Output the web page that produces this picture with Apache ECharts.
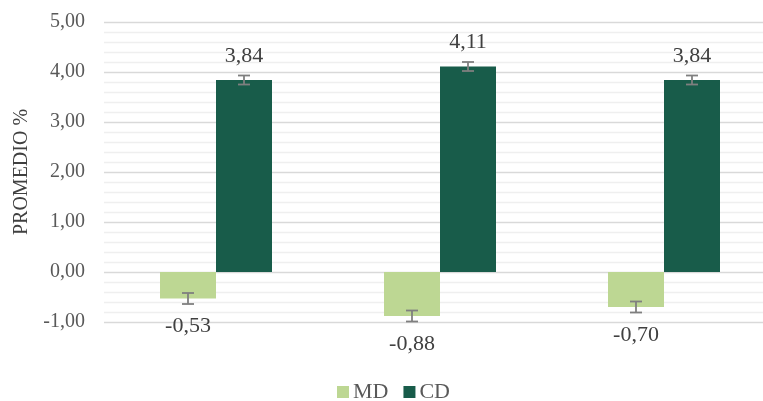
<!DOCTYPE html>
<html>
<head>
<meta charset="utf-8">
<script src="https://cdn.jsdelivr.net/npm/echarts@6/dist/echarts.min.js"></script>
<style>html,body{margin:0;padding:0;background:#fff}#c{width:763px;height:401px}</style>
</head>
<body>
<div id="c"></div>
<script>
const categories = ['G1', 'G2', 'G3'];
const mdValues = [-0.53, -0.88, -0.70];
const cdValues = [3.84, 4.11, 3.84];
const mdErrors = [0.11, 0.11, 0.11];
const cdErrors = [0.09, 0.09, 0.09];
const seriesNames = ['MD', 'CD'];

const fmt = v => v.toFixed(2).replace('.', ',');
const FONT = '"Liberation Serif", "Times New Roman", serif';

function errSeries(values, errors, side) {
  return {
    type: 'custom',
    z: 10,
    silent: true,
    data: values.map((v, i) => [i, v, errors[i]]),
    renderItem: function (params, api) {
      const i = api.value(0), v = api.value(1), e = api.value(2);
      const bw = api.size([1, 0])[0];
      const c = api.coord([i, v]);
      const x = c[0] + side * bw * 0.125;
      const yT = api.coord([i, v + e])[1];
      const yB = api.coord([i, v - e])[1];
      const hw = 6;
      const style = { stroke: '#7f7f7f', lineWidth: 1.8, fill: null };
      return {
        type: 'group',
        children: [
          { type: 'line', shape: { x1: x, y1: yT, x2: x, y2: yB }, style },
          { type: 'line', shape: { x1: x - hw, y1: yT, x2: x + hw, y2: yT }, style },
          { type: 'line', shape: { x1: x - hw, y1: yB, x2: x + hw, y2: yB }, style }
        ]
      };
    },
    encode: { x: 0, y: 1 }
  };
}

const labelCfg = {
  show: true,
  formatter: p => fmt(p.value),
  fontFamily: FONT,
  fontSize: 22,
  color: '#404040'
};

const chart = echarts.init(document.getElementById('c'));
chart.setOption({
  animation: false,
  backgroundColor: '#fff',
  grid: { left: 104, top: 22, bottom: 79, right: -13, outerBoundsMode: 'none', containLabel: false },
  legend: {
    data: seriesNames,
    top: 376,
    left: 332,
    itemWidth: 12,
    itemHeight: 12,
    itemGap: 15,
    icon: 'rect',
    textStyle: { fontFamily: FONT, fontSize: 22, color: '#595959', padding: [0, 0, 0, -1] }
  },
  xAxis: {
    type: 'category',
    data: categories,
    axisLine: { show: false },
    axisTick: { show: false },
    axisLabel: { show: false },
    splitLine: { show: false }
  },
  yAxis: {
    type: 'value',
    min: -1,
    max: 5,
    interval: 1,
    name: 'PROMEDIO %',
    nameLocation: 'middle',
    nameGap: 72,
    nameRotate: 90,
    nameTextStyle: { fontFamily: FONT, fontSize: 20, color: '#404040' },
    axisLine: { show: false },
    axisTick: { show: false },
    axisLabel: { formatter: fmt, fontFamily: FONT, fontSize: 20, color: '#595959', margin: 19 },
    splitLine: { show: true, lineStyle: { color: '#d9d9d9', width: 1.3 } },
    minorTick: { show: false, splitNumber: 5 },
    minorSplitLine: { show: true, lineStyle: { color: '#efefef', width: 1.3 } }
  },
  series: [
    {
      name: seriesNames[0],
      type: 'bar',
      data: mdValues,
      barWidth: '25%',
      barGap: '0%',
      itemStyle: { color: '#bdd793' },
      label: Object.assign({}, labelCfg, { position: 'bottom', distance: 17 })
    },
    {
      name: seriesNames[1],
      type: 'bar',
      data: cdValues,
      barWidth: '25%',
      barGap: '0%',
      itemStyle: { color: '#185c4a' },
      label: Object.assign({}, labelCfg, { position: 'top', distance: 13 })
    },
    errSeries(mdValues, mdErrors, -1),
    errSeries(cdValues, cdErrors, 1)
  ]
});
</script>
</body>
</html>
